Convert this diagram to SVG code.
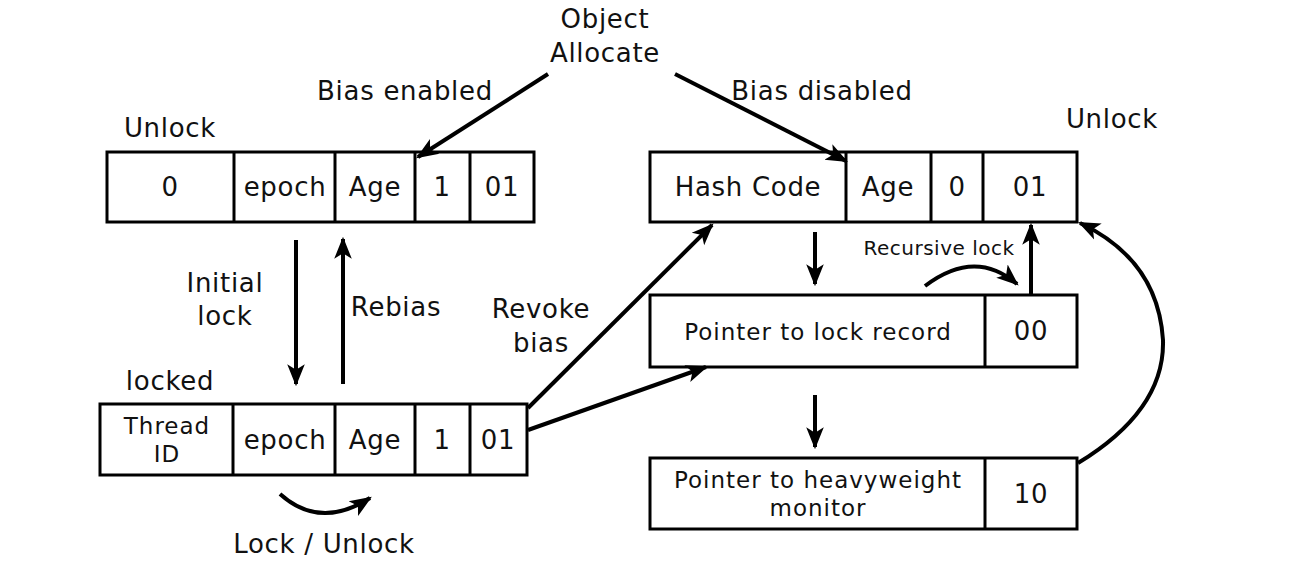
<svg xmlns="http://www.w3.org/2000/svg" width="1306" height="568" viewBox="0 0 1306 568">
<style>
.box{fill:#fff;stroke:#000;stroke-width:3}
.div{stroke:#000;stroke-width:3}
text{font-family:"DejaVu Sans","Open Sans",sans-serif;fill:#111;text-anchor:middle}
.l{font-size:26px;letter-spacing:0.7px}
.m{font-size:23px;letter-spacing:1px}
.s{font-size:20px;letter-spacing:0.5px}
.c{fill:none;stroke:#000;stroke-width:4}
</style>
<defs>
<marker id="ah" markerUnits="userSpaceOnUse" markerWidth="22" markerHeight="22" viewBox="0 0 20 20" refX="18" refY="10" orient="auto">
<path d="M0,2 L20,10 L0,18 L5,10 z" fill="#000"/>
</marker>
</defs>
<rect width="1306" height="568" fill="#fff"/>
<g id="labels">
<text class="l" x="605" y="28">Object</text>
<text class="l" x="605" y="62">Allocate</text>
<text class="l" x="405" y="100">Bias enabled</text>
<text class="l" x="822" y="100">Bias disabled</text>
<text class="l" x="170" y="137">Unlock</text>
<text class="l" x="1112" y="128">Unlock</text>
<text class="l" x="225" y="292">Initial</text>
<text class="l" x="225" y="325">lock</text>
<text class="l" x="396" y="316">Rebias</text>
<text class="l" x="541" y="318">Revoke</text>
<text class="l" x="541" y="352">bias</text>
<text class="l" x="170" y="390">locked</text>
<text class="l" x="324" y="553">Lock / Unlock</text>
<text class="s" x="939" y="255">Recursive lock</text>
</g>
<g id="unlock-biased">
<rect class="box" x="107" y="152" width="427" height="70"/>
<line class="div" x1="234" y1="152" x2="234" y2="222"/>
<line class="div" x1="335" y1="152" x2="335" y2="222"/>
<line class="div" x1="415" y1="152" x2="415" y2="222"/>
<line class="div" x1="470" y1="152" x2="470" y2="222"/>
<text class="l" x="170" y="196">0</text>
<text class="l" x="285" y="196">epoch</text>
<text class="l" x="375" y="196">Age</text>
<text class="l" x="442" y="196">1</text>
<text class="l" x="502" y="196">01</text>
</g>
<g id="unlock-normal">
<rect class="box" x="650" y="152" width="427" height="70"/>
<line class="div" x1="846" y1="152" x2="846" y2="222"/>
<line class="div" x1="931" y1="152" x2="931" y2="222"/>
<line class="div" x1="983" y1="152" x2="983" y2="222"/>
<text class="l" x="748" y="196">Hash Code</text>
<text class="l" x="888" y="196">Age</text>
<text class="l" x="957" y="196">0</text>
<text class="l" x="1030" y="196">01</text>
</g>
<g id="locked-biased">
<rect class="box" x="100" y="404" width="427" height="71"/>
<line class="div" x1="233" y1="404" x2="233" y2="475"/>
<line class="div" x1="335" y1="404" x2="335" y2="475"/>
<line class="div" x1="415" y1="404" x2="415" y2="475"/>
<line class="div" x1="470" y1="404" x2="470" y2="475"/>
<text class="m" x="167" y="434">Thread</text>
<text class="m" x="167" y="462">ID</text>
<text class="l" x="285" y="449">epoch</text>
<text class="l" x="375" y="449">Age</text>
<text class="l" x="442" y="449">1</text>
<text class="l" x="498" y="449">01</text>
</g>
<g id="lightweight">
<rect class="box" x="650" y="295" width="427" height="72"/>
<line class="div" x1="985" y1="295" x2="985" y2="367"/>
<text class="m" x="818" y="340">Pointer to lock record</text>
<text class="l" x="1031" y="340">00</text>
</g>
<g id="heavyweight">
<rect class="box" x="650" y="458" width="427" height="71"/>
<line class="div" x1="985" y1="458" x2="985" y2="529"/>
<text class="m" x="818" y="488">Pointer to heavyweight</text>
<text class="m" x="818" y="516">monitor</text>
<text class="l" x="1031" y="503">10</text>
</g>
<g id="connectors">
<line class="c" x1="548" y1="74" x2="418" y2="157" marker-end="url(#ah)"/>
<line class="c" x1="675" y1="74" x2="846" y2="161" marker-end="url(#ah)"/>
<line class="c" x1="296" y1="240" x2="296" y2="384" marker-end="url(#ah)"/>
<line class="c" x1="343" y1="384" x2="343" y2="239" marker-end="url(#ah)"/>
<line class="c" x1="528" y1="408" x2="712" y2="225" marker-end="url(#ah)"/>
<line class="c" x1="528" y1="430" x2="706" y2="367" marker-end="url(#ah)"/>
<line class="c" x1="815" y1="232" x2="815" y2="284" marker-end="url(#ah)"/>
<line class="c" x1="815" y1="395" x2="815" y2="447" marker-end="url(#ah)"/>
<line class="c" x1="1031" y1="295" x2="1031" y2="225" marker-end="url(#ah)"/>
<path class="c" d="M925,286 Q975,248 1017,284" marker-end="url(#ah)"/>
<path class="c" d="M1078,463 Q1165,410 1163,340 Q1158,260 1080,223" marker-end="url(#ah)"/>
<path class="c" d="M280,494 Q320,530 370,498" marker-end="url(#ah)"/>
</g>
</svg>
